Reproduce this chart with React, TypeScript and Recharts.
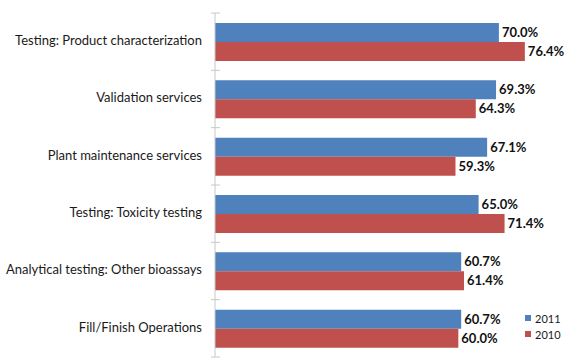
import { BarChart, Bar, XAxis, YAxis, LabelList } from "recharts";

const categories = [
  "Testing: Product characterization",
  "Validation services",
  "Plant maintenance services",
  "Testing: Toxicity testing",
  "Analytical testing: Other bioassays",
  "Fill/Finish Operations",
];
const values2011 = [70.0, 69.3, 67.1, 65.0, 60.7, 60.7];
const values2010 = [76.4, 64.3, 59.3, 71.4, 61.4, 60.0];
const seriesNames = ["2011", "2010"];
const seriesColors = ["#4F81BD", "#C0504D"];

const data = categories.map((name, i) => ({ name, y2011: values2011[i], y2010: values2010[i] }));

const W = 586;
const H = 361;
const TOP = 13;
const BOTTOM = 4;
const AXIS_X = 215;
const BAND = (H - TOP - BOTTOM) / categories.length;
const FONT = "Lato, 'Open Sans', sans-serif";

function CategoryTick(props: any) {
  const { y, payload, index } = props;
  const y0 = y - BAND / 2;
  return (
    <g>
      <line x1={AXIS_X - 4} x2={AXIS_X + 5} y1={y0} y2={y0} stroke="#c8c8c8" />
      {index === categories.length - 1 && (
        <line x1={AXIS_X - 4} x2={AXIS_X + 5} y1={y + BAND / 2} y2={y + BAND / 2} stroke="#c8c8c8" />
      )}
      <text x={AXIS_X - 13} y={y} textAnchor="end" dominantBaseline="middle" fontSize={13} fill="#1a1a1a" fontFamily={FONT}>
        {payload.value}
      </text>
    </g>
  );
}

const fmt = (v: any) => `${Number(v).toFixed(1)}%`;
const labelStyle = { fontFamily: FONT, fontSize: 13, fontWeight: 700, fill: "#111" };

export default function App() {
  return (
    <div style={{ position: "absolute", left: 0, top: 0, width: W, height: H, background: "#fff" }}>
      <BarChart
        width={W}
        height={H}
        data={data}
        layout="vertical"
        margin={{ top: TOP, right: 6, bottom: BOTTOM, left: 0 }}
        barCategoryGap="17.5%"
        barGap={0}
      >
        <XAxis type="number" domain={[0, 90]} hide />
        <YAxis
          type="category"
          dataKey="name"
          width={AXIS_X}
          axisLine={{ stroke: "#c8c8c8" }}
          tickLine={false}
          tick={<CategoryTick />}
          interval={0}
        />
        <Bar dataKey="y2011" name="2011" fill={seriesColors[0]} isAnimationActive={false}>
          <LabelList dataKey="y2011" position="right" offset={3} formatter={fmt} style={labelStyle} />
        </Bar>
        <Bar dataKey="y2010" name="2010" fill={seriesColors[1]} isAnimationActive={false}>
          <LabelList dataKey="y2010" position="right" offset={3} formatter={fmt} style={labelStyle} />
        </Bar>
      </BarChart>
      <div style={{ position: "absolute", left: 525, top: 310, fontFamily: FONT, fontSize: 11, color: "#1a1a1a" }}>
        {seriesNames.map((n, i) => (
          <div key={n} style={{ display: "flex", alignItems: "center", height: 16 }}>
            <span style={{ width: 6, height: 6, background: seriesColors[i], marginRight: 4, display: "inline-block" }} />
            {n}
          </div>
        ))}
      </div>
    </div>
  );
}
